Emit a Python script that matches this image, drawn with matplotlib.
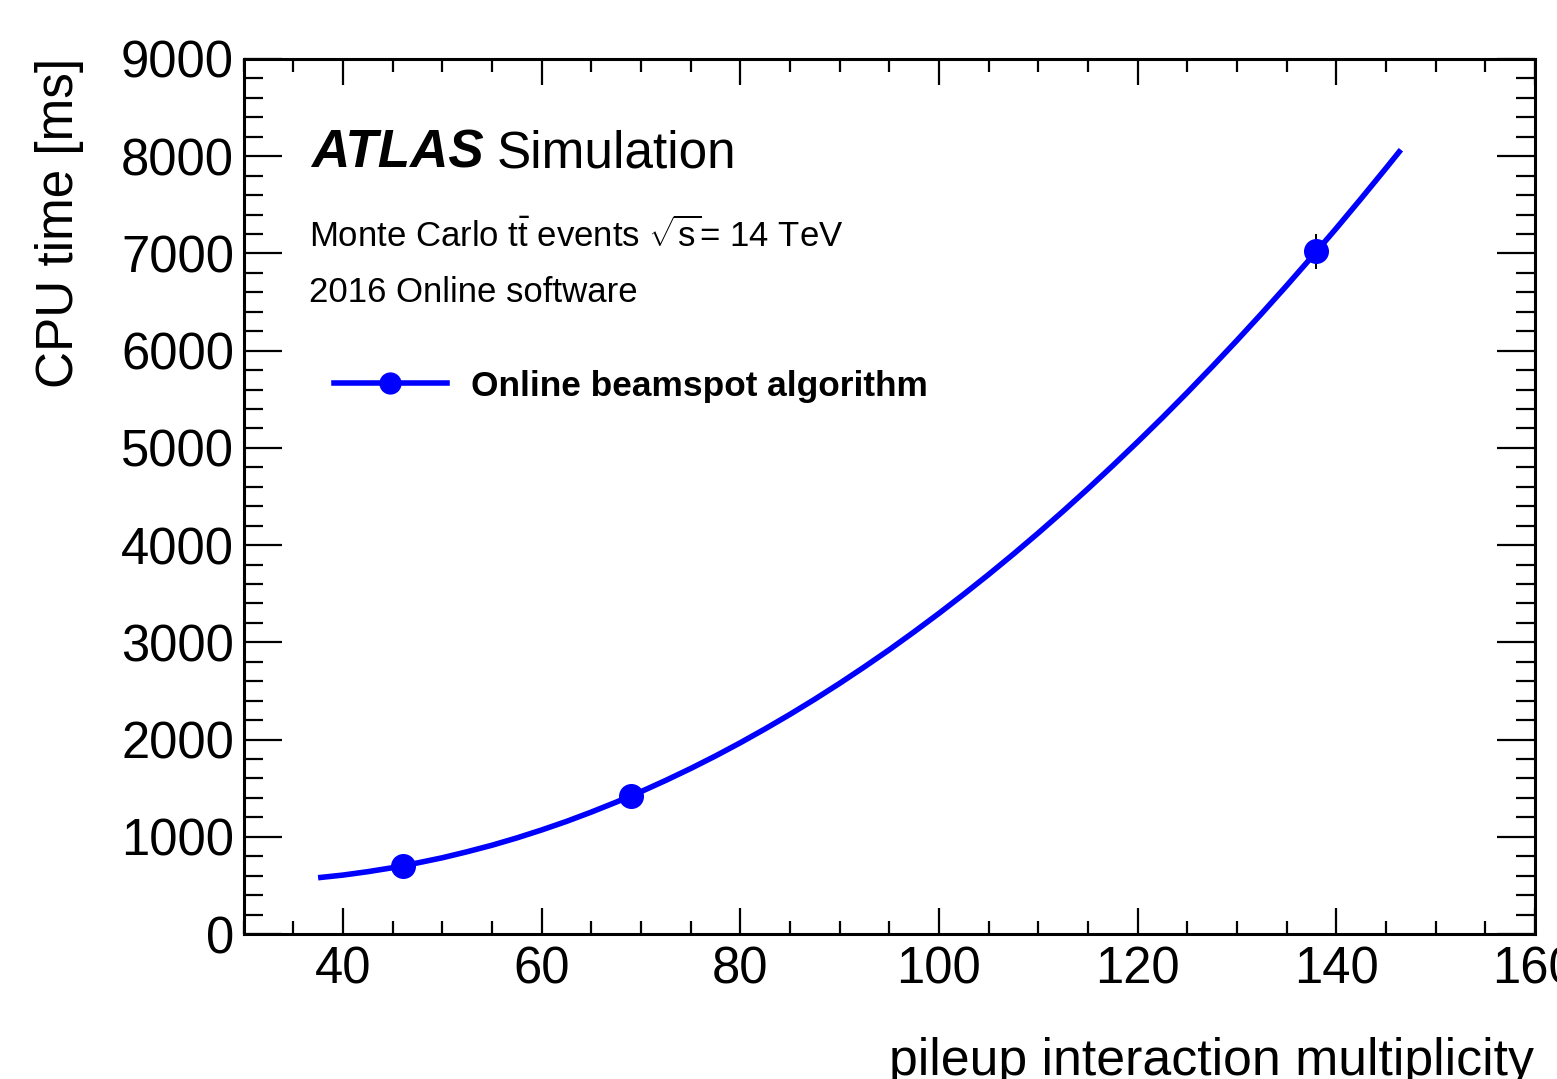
import matplotlib
matplotlib.use("Agg")
import matplotlib.pyplot as plt
from matplotlib.lines import Line2D
from matplotlib.ticker import MultipleLocator

plt.rcParams['font.family'] = ['Liberation Sans', 'DejaVu Sans']
plt.rcParams['mathtext.fontset'] = 'custom'
plt.rcParams['mathtext.rm'] = 'Liberation Sans'
plt.rcParams['mathtext.it'] = 'Liberation Sans:italic'
plt.rcParams['mathtext.bf'] = 'Liberation Sans:bold'

# measured points
pileup = [46, 69, 138]
cpu_ms = [700, 1420, 7025]
cpu_err = [60, 90, 180]

# fitted curve
fit_x = [37.5, 40, 42.5, 45, 47.5, 50, 52.5, 55, 57.5, 60, 62.5, 65, 67.5, 70,
         72.5, 75, 77.5, 80, 82.5, 85, 87.5, 90, 92.5, 95, 97.5, 100, 102.5,
         105, 107.5, 110, 112.5, 115, 117.5, 120, 122.5, 125, 127.5, 130,
         132.5, 135, 137.5, 140, 142.5, 145, 146.5]
fit_y = [579, 606, 641, 682, 731, 784, 846, 913, 988, 1070, 1158, 1254, 1356,
         1464, 1580, 1702, 1831, 1967, 2110, 2259, 2415, 2578, 2748, 2924,
         3108, 3298, 3495, 3698, 3908, 4125, 4349, 4580, 4818, 5062, 5312,
         5570, 5835, 6106, 6384, 6669, 6961, 7259, 7565, 7877, 8067]

series_label = "Online beamspot algorithm"
x_title = "pileup interaction multiplicity"
y_title = "CPU time [ms]"

W, H = 1557, 1079
fig = plt.figure(figsize=(W / 100, H / 100), dpi=100)
L, R, T, B = 243.6, 1535, 59, 934
ax = fig.add_axes([L / W, 1 - B / H, (R - L) / W, (B - T) / H])

blue = '#0000ff'
ax.plot(fit_x, fit_y, color=blue, lw=4.0, solid_capstyle='butt',
        solid_joinstyle='round', zorder=2)
ax.errorbar(pileup, cpu_ms, yerr=cpu_err, fmt='none', ecolor='black',
            elinewidth=1.4, capsize=0, zorder=3)
ax.plot(pileup, cpu_ms, 'o', color=blue, ms=17, mec=blue, zorder=4)

ax.set_xlim(30, 160)
ax.set_ylim(0, 9000)
ax.xaxis.set_major_locator(MultipleLocator(20))
ax.xaxis.set_minor_locator(MultipleLocator(5))
ax.yaxis.set_major_locator(MultipleLocator(1000))
ax.yaxis.set_minor_locator(MultipleLocator(200))
ax.tick_params(axis='both', which='both', direction='in', top=True, right=True,
               width=1.6, labelsize=36.5)
ax.tick_params(axis='x', which='major', length=18.7, pad=8)
ax.tick_params(axis='x', which='minor', length=9.4)
ax.tick_params(axis='y', which='major', length=27.4, pad=7)
ax.tick_params(axis='y', which='minor', length=13.7)
for sp in ax.spines.values():
    sp.set_linewidth(2.2)

def fx(px):
    return px / W

def fy(py):
    return 1 - py / H

fig.text(fx(1534), fy(1075), x_title, ha='right', va='baseline', fontsize=37.3)
fig.text(fx(60), fy(58), y_title, ha='center', va='top', rotation=90, fontsize=36.8)

fig.text(fx(311), fy(168), "ATLAS", fontsize=38.2, fontweight='bold', fontstyle='italic',
         va='baseline', ha='left')
fig.text(fx(497), fy(168), "Simulation", fontsize=37, va='baseline', ha='left')
fig.text(fx(309), fy(247), r"Monte Carlo $\mathregular{t\bar{t}}$ events $\sqrt{\mathregular{s}}$= 14 TeV",
         fontsize=25, va='baseline', ha='left')
fig.text(fx(309), fy(302), "2016 Online software", fontsize=25, va='baseline', ha='left')

handle = Line2D([], [], color=blue, lw=4.0, marker='o', ms=15, mec=blue)
ax.legend([handle], [series_label], loc='center left',
          bbox_to_anchor=(fx(334), fy(386)), bbox_transform=fig.transFigure,
          frameon=False, borderpad=0, borderaxespad=0, handlelength=3.2,
          handletextpad=0.68, numpoints=1,
          prop={'size': 25.4, 'weight': 'bold'})

fig.savefig("out.png", dpi=100)
